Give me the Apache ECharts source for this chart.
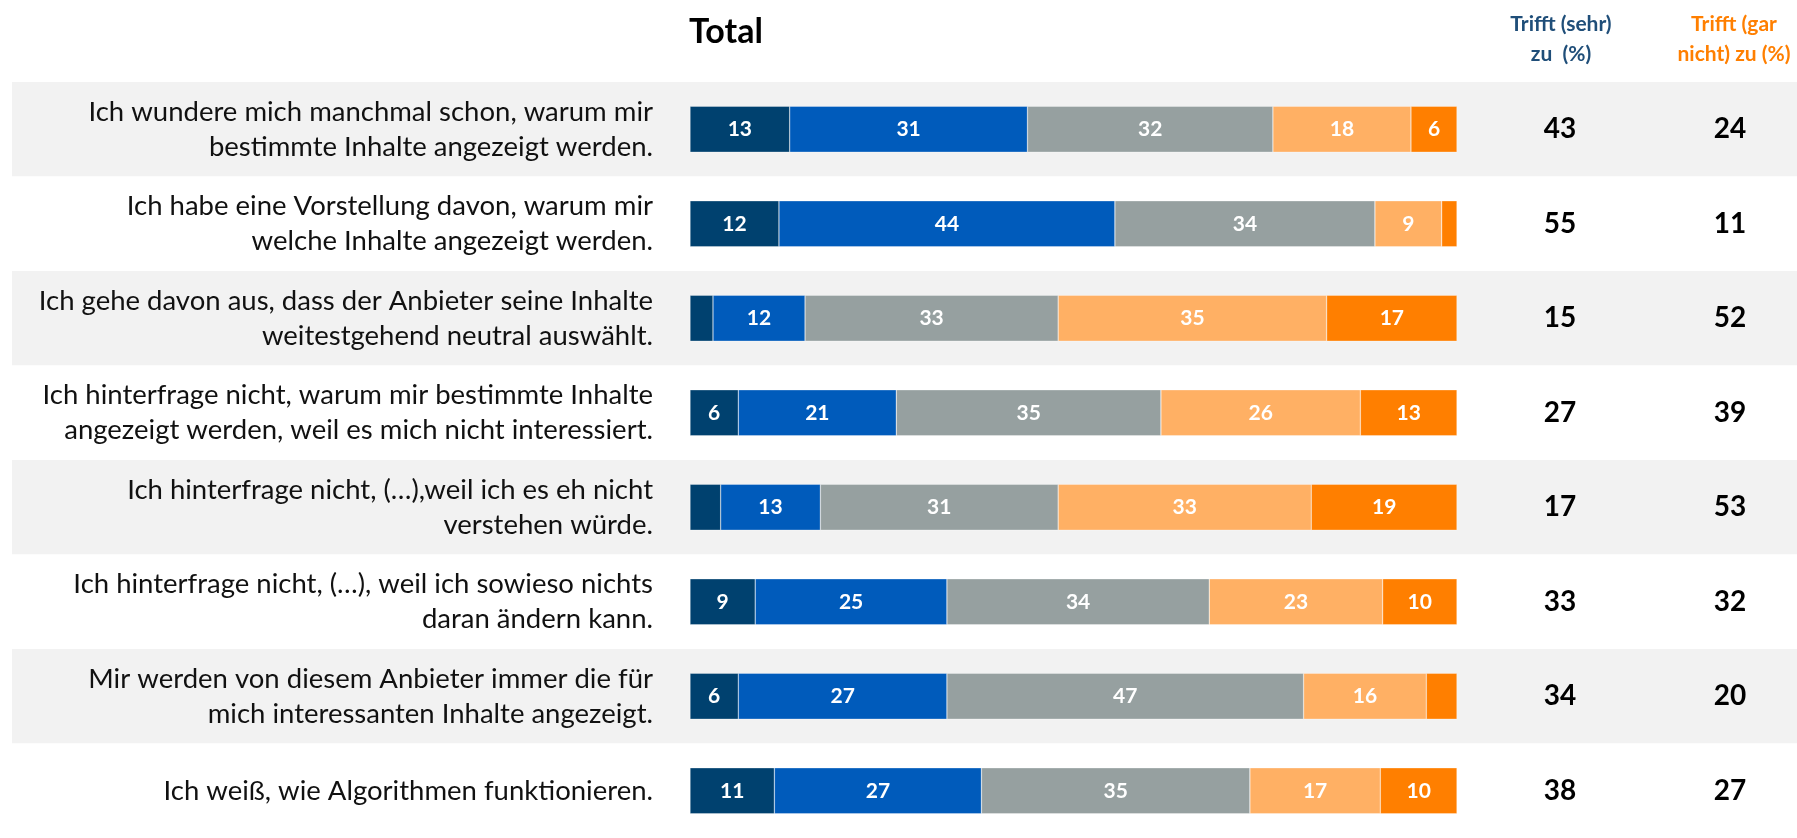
<!DOCTYPE html>
<html>
<head>
<meta charset="utf-8">
<script src="https://cdn.jsdelivr.net/npm/echarts@6/dist/echarts.min.js"></script>
<style>
  html, body { margin: 0; padding: 0; background: #fff; }
  #main { width: 1797px; height: 838px; }
</style>
</head>
<body>
<div id="main"></div>
<script>
  // Aussagen (Kategorien)
  var statements = [
    'Ich wundere mich manchmal schon, warum mir\nbestimmte Inhalte angezeigt werden.',
    'Ich habe eine Vorstellung davon, warum mir\nwelche Inhalte angezeigt werden.',
    'Ich gehe davon aus, dass der Anbieter seine Inhalte\nweitestgehend neutral auswählt.',
    'Ich hinterfrage nicht, warum mir bestimmte Inhalte\nangezeigt werden, weil es mich nicht interessiert.',
    'Ich hinterfrage nicht, (…),weil ich es eh nicht\nverstehen würde.',
    'Ich hinterfrage nicht, (…), weil ich sowieso nichts\ndaran ändern kann.',
    'Mir werden von diesem Anbieter immer die für\nmich interessanten Inhalte angezeigt.',
    'Ich weiß, wie Algorithmen funktionieren.'
  ];

  // Anteile in %
  var trifftSehrZu   = [13, 11.6, 3, 6.3, 4, 8.5, 6.3, 11];
  var trifftZu       = [31, 43.8, 12, 20.6, 13, 25.0, 27.2, 27];
  var teils          = [32, 33.9, 33, 34.5, 31, 34.2, 46.5, 35];
  var trifftNichtZu  = [18, 8.7, 35, 26.0, 33, 22.6, 16.0, 17];
  var trifftGarNicht = [6, 2.0, 17, 12.6, 19, 9.7, 4.0, 10];

  // Summen rechts
  var topBox    = ['43', '55', '15', '27', '17', '33', '34', '38'];
  var bottomBox = ['24', '11', '52', '39', '53', '32', '20', '27'];

  var colors = ['#00416F', '#005BBB', '#96A0A0', '#FFB064', '#FF7F00'];
  var font = 'Lato';

  var chart = echarts.init(document.getElementById('main'));

  function barSeries(name, data, color) {
    return {
      name: name,
      type: 'bar',
      stack: 'total',
      xAxisIndex: 1,
      yAxisIndex: 1,
      barWidth: 46,
      data: data,
      itemStyle: { color: color, borderColor: 'rgba(255,255,255,0.6)', borderWidth: 0.5 },
      label: {
        show: true,
        color: '#fff',
        fontFamily: font,
        fontWeight: 'bold',
        fontSize: 21,
        formatter: function(p) {
          return p.value < 5 ? '' : Math.round(p.value);
        }
      },
      emphasis: { disabled: true }
    };
  }

  var option = {
    animation: false,
    backgroundColor: '#fff',
    grid: [
      { left: 12, right: 0, top: 82, height: 762 },   // Hintergrundstreifen
      { left: 690, width: 767, top: 82, height: 762 } // Balken
    ],
    xAxis: [
      { gridIndex: 0, type: 'value', show: false, min: 0, max: 1 },
      { gridIndex: 1, type: 'value', show: false, min: 0, max: 100 }
    ],
    yAxis: [
      {
        gridIndex: 0, type: 'category', inverse: true, data: statements,
        axisLine: { show: false }, axisTick: { show: false }, axisLabel: { show: false },
        splitLine: { show: false },
        splitArea: { show: true, areaStyle: { color: ['#F2F2F2', '#FFFFFF'] } }
      },
      {
        gridIndex: 1, type: 'category', inverse: true, data: statements,
        axisLine: { show: false }, axisTick: { show: false },
        axisLabel: {
          margin: 37, align: 'right', fontFamily: font, fontSize: 27.5,
          lineHeight: 35, color: '#111'
        }
      },
      {
        gridIndex: 1, type: 'category', inverse: true, position: 'right', data: topBox,
        axisLine: { show: false }, axisTick: { show: false },
        axisLabel: {
          margin: 103, align: 'center', fontFamily: font, fontSize: 28,
          fontWeight: 'bold', color: '#000'
        }
      },
      {
        gridIndex: 1, type: 'category', inverse: true, position: 'right', data: bottomBox,
        axisLine: { show: false }, axisTick: { show: false },
        axisLabel: {
          margin: 273, align: 'center', fontFamily: font, fontSize: 28,
          fontWeight: 'bold', color: '#000'
        }
      }
    ],
    graphic: [
      {
        type: 'text', left: 689, top: 15,
        style: { text: 'Total', font: 'bold 34px ' + font, fill: '#000' }
      },
      {
        type: 'text', x: 1561, y: 9,
        style: {
          text: 'Trifft (sehr)\nzu  (%)', font: 'bold 21px ' + font, fill: '#1F4E79',
          align: 'center', lineHeight: 30
        }
      },
      {
        type: 'text', x: 1734, y: 9,
        style: {
          text: 'Trifft (gar\nnicht) zu (%)', font: 'bold 21px ' + font, fill: '#FF7F00',
          align: 'center', lineHeight: 30
        }
      }
    ],
    series: [
      barSeries('Trifft sehr zu', trifftSehrZu, colors[0]),
      barSeries('Trifft zu', trifftZu, colors[1]),
      barSeries('Teils/teils', teils, colors[2]),
      barSeries('Trifft eher nicht zu', trifftNichtZu, colors[3]),
      barSeries('Trifft gar nicht zu', trifftGarNicht, colors[4])
    ]
  };

  chart.setOption(option);
</script>
</body>
</html>
